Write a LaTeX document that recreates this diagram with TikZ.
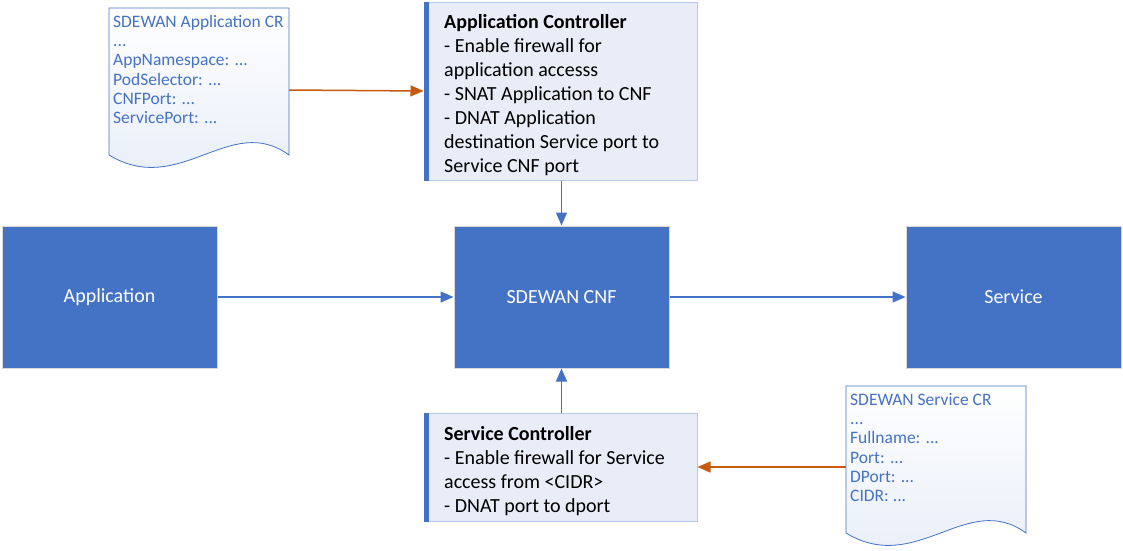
\documentclass[tikz,border=0pt]{standalone}
\usepackage{fontspec}
\setmainfont{Carlito}
\usetikzlibrary{arrows.meta}
\definecolor{cblue}{HTML}{4472C4}
\definecolor{corange}{HTML}{C55A11}
\definecolor{cfill}{HTML}{E9EDF7}
\definecolor{cedge}{HTML}{B4C7E7}
\definecolor{docshade}{HTML}{E6ECF8}
\tikzset{
  bigbox/.style={draw=black!15, line width=1pt, fill=cblue, text=white, minimum width=215pt, minimum height=142pt, inner sep=0pt, font=\fontsize{20}{24}\selectfont},
  ctrl/.style={draw=cedge, line width=1pt, fill=cfill, inner sep=0pt},
  ctrltext/.style={anchor=north west, inner sep=0pt, align=left, font=\fontsize{20}{24}\selectfont, text=black},
  doctext/.style={anchor=north west, inner sep=0pt, align=left, font=\fontsize{17.5}{19.3}\selectfont, text=cblue},
  docframe/.style={draw=cblue, line width=0.8pt, top color=white, bottom color=docshade},
  bluearrow/.style={draw=cblue, line width=1.5pt, -{Triangle[length=13pt,width=11pt]}},
  orangearrow/.style={draw=corange, line width=1.5pt, -{Triangle[length=13pt,width=11pt]}},
}
\begin{document}
\begin{tikzpicture}[x=1pt,y=-1pt]
\useasboundingbox (0,0) rectangle (1123,550);
% main boxes
\node[bigbox] (app) at (109.5,297) {Application};
\node[bigbox] (cnf) at (561.5,297) {SDEWAN CNF};
\node[bigbox] (svc) at (1013.5,297) {Service};
% application controller
\node[ctrl, minimum width=273pt, minimum height=178pt] (ac) at (560.5,91) {};
\fill[cblue] (ac.north west) rectangle ([xshift=5pt]ac.south west);
\node[ctrltext] (actext) at (444,11.2) {\strut\textbf{Application Controller}\\- Enable firewall for\\application accesss\\- SNAT Application to CNF\\- DNAT Application\\destination Service port to\\Service CNF port};
% service controller
\node[ctrl, minimum width=273pt, minimum height=108pt] (sc) at (560.5,467) {};
\fill[cblue] (sc.north west) rectangle ([xshift=5pt]sc.south west);
\node[ctrltext] (sctext) at (444,423.2) {\strut\textbf{Service Controller}\\- Enable firewall for Service\\access from <CIDR>\\- DNAT port to dport};
% document 1
\node[minimum width=180pt, minimum height=164pt, inner sep=0pt] (doc1) at (199,90) {};
\path[docframe] (109,8) -- (289,8) -- (289,155) .. controls (230,112) and (180,198) .. (109,155) -- cycle;
\node[doctext] (doc1text) at (113,13.5) {\strut SDEWAN Application CR\\...\\AppNamespace: ...\\PodSelector: ...\\CNFPort: ...\\ServicePort: ...};
% document 2
\node[minimum width=180pt, minimum height=162pt, inner sep=0pt] (doc2) at (936,467) {};
\path[docframe] (846,386) -- (1026,386) -- (1026,533) .. controls (967,490) and (917,576) .. (846,533) -- cycle;
\node[doctext] (doc2text) at (850,391.5) {\strut SDEWAN Service CR\\...\\Fullname: ...\\Port: ...\\DPort: ...\\CIDR: ...};
% connectors
\draw[bluearrow] (app) -- (cnf);
\draw[bluearrow] (cnf) -- (svc);
\draw[bluearrow] (cnf.north |- ac.south) -- (cnf.north);
\draw[bluearrow] (cnf.south |- sc.north) -- (cnf.south);
\draw[orangearrow] (doc1.east) -- (ac.west);
\draw[orangearrow] (doc2.west) -- (sc.east);
\end{tikzpicture}
\end{document}
